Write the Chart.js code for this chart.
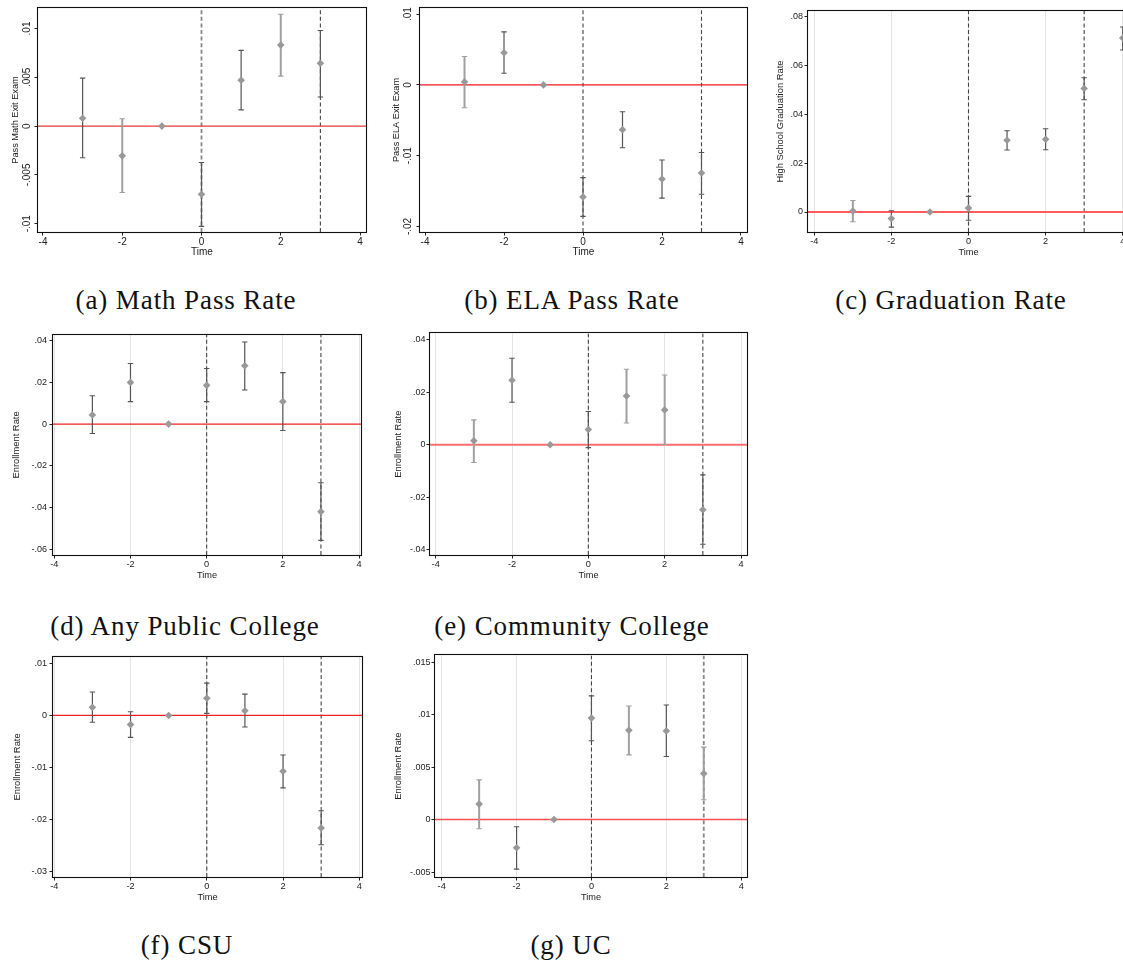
<!DOCTYPE html>
<html><head><meta charset="utf-8">
<script src="https://cdn.jsdelivr.net/npm/chart.js@4.4.0/dist/chart.umd.min.js"></script>
<style>
html,body{margin:0;padding:0;background:#fff;}
body{width:1123px;height:965px;overflow:hidden;position:relative;}
.box{position:absolute;}
.cap{position:absolute;font-family:'Liberation Serif',serif;font-size:27px;color:#111;white-space:nowrap;transform:translate(-50%,-50%);letter-spacing:0.9px;}
</style></head>
<body>
<script>
// ---------- DATA ----------
const periods = [-3, -2, -1, 0, 1, 2, 3];
const periodsGrad = [-3, -2, -1, 0, 1, 2, 3, 4];
const xTicks = [-4, -2, 0, 2, 4];

// (a) Math pass rate
const mathEst = [0.0008, -0.00305, 0, -0.00698, 0.00471, 0.0083, 0.00644];
const mathLo  = [-0.00325, -0.00681, null, -0.01027, 0.00166, 0.00512, 0.00298];
const mathHi  = [0.00492, 0.00075, null, -0.00373, 0.00776, 0.01146, 0.0098];
const yTicksMath = [-0.01, -0.005, 0, 0.005, 0.01];

// (b) ELA pass rate
const elaEst = [0.00042, 0.00454, 0, -0.01582, -0.00632, -0.01329, -0.01245];
const elaLo  = [-0.00323, 0.00164, null, -0.01858, -0.00889, -0.016, -0.01544];
const elaHi  = [0.0040, 0.00749, null, -0.0131, -0.00379, -0.01062, -0.00955];
const yTicksEla = [-0.02, -0.01, 0, 0.01];

// (c) Graduation rate
const gradEst = [0.0004, -0.0027, 0, 0.0016, 0.0294, 0.0298, 0.0506, 0.0713];
const gradLo  = [-0.004, -0.0062, null, -0.0034, 0.0254, 0.0255, 0.046, 0.0664];
const gradHi  = [0.0047, 0.0005, null, 0.0064, 0.0333, 0.0341, 0.055, 0.0758];
const yTicksGrad = [0, 0.02, 0.04, 0.06, 0.08];

// (d) Any public college
const anyEst = [0.0044, 0.020, 0, 0.0186, 0.028, 0.0108, -0.042];
const anyLo  = [-0.0045, 0.0108, null, 0.0108, 0.0164, -0.0031, -0.0558];
const anyHi  = [0.0136, 0.0291, null, 0.0267, 0.0394, 0.0247, -0.0281];
const yTicksAny = [-0.06, -0.04, -0.02, 0, 0.02, 0.04];

// (e) Community college
const ccEst = [0.0015, 0.0246, 0, 0.0058, 0.0186, 0.0133, -0.0248];
const ccLo  = [-0.0068, 0.0162, null, -0.0011, 0.0083, 0.0001, -0.038];
const ccHi  = [0.0095, 0.033, null, 0.0127, 0.0288, 0.0266, -0.0115];
const yTicksCC = [-0.04, -0.02, 0, 0.02, 0.04];

// (f) CSU
const csuEst = [0.00156, -0.00175, 0, 0.0033, 0.0009, -0.0107, -0.0216];
const csuLo  = [-0.0013, -0.0042, null, 0.0004, -0.0022, -0.0139, -0.0248];
const csuHi  = [0.0045, 0.0007, null, 0.0062, 0.0041, -0.0076, -0.0183];
const yTicksCSU = [-0.03, -0.02, -0.01, 0, 0.01];

// (g) UC
const ucEst = [0.00147, -0.00269, 0, 0.00966, 0.0085, 0.00844, 0.00438];
const ucLo  = [-0.00088, -0.00472, null, 0.0075, 0.00616, 0.006, 0.00188];
const ucHi  = [0.00378, -0.00069, null, 0.01178, 0.01081, 0.01091, 0.0069];
const yTicksUC = [-0.005, 0, 0.005, 0.01, 0.015];

const eventLines = [0, 3];

// ---------- LAYOUT / STYLE ----------
const XH = 28;
const DARK = '#555555', LIGHT = '#a0a0a0';
const panels = [
  {x: periods, est: mathEst, lo: mathLo, hi: mathHi, yTicks: yTicksMath, yTitle: 'Pass Math Exit Exam',
   frame: [38, 7, 366, 232], xr: [-4.126, 4.151], yr: [-0.01085, 0.0121], titleX: 15.7, rotY: true, rotOff: 11,
   grid: false, tf: 10, ttf: 9.2, xf: 10, yPad: 2, zc: '#e33b36', zw: 1.3,
   sh: ['d','l','d','d','d','l','d'], vs: ['l','d']},
  {x: periods, est: elaEst, lo: elaLo, hi: elaHi, yTicks: yTicksEla, yTitle: 'Pass ELA Exit Exam',
   frame: [420, 7, 747, 232], xr: [-4.127, 4.152], yr: [-0.02078, 0.01086], titleX: 396.7, rotY: true, rotOff: 11.7,
   grid: false, tf: 10, ttf: 9.2, xf: 10, yPad: 2, zc: '#f01818', zw: 1.3,
   sh: ['l','d','d','d','d','d','d'], vs: ['d','d']},
  {x: periodsGrad, est: gradEst, lo: gradLo, hi: gradHi, yTicks: yTicksGrad, yTitle: 'High School Graduation Rate',
   frame: [808, 7, 1129, 232], xr: [-4.163, 4.163], yr: [-0.00819, 0.0824], titleX: 780, rotY: false,
   grid: true, tf: 9, ttf: 9.4, xf: 9.2, yPad: 1.5, zc: '#ff5c5c', zw: 1.8,
   sh: ['l','d','d','d','d','d','d','d'], vs: ['d','d']},
  {x: periods, est: anyEst, lo: anyLo, hi: anyHi, yTicks: yTicksAny, yTitle: 'Enrollment Rate',
   frame: [53, 330, 361, 555], xr: [-4.034, 4.052], yr: [-0.0628, 0.0428], titleX: 16.7, rotY: false,
   grid: true, tf: 9, ttf: 9.4, xf: 9.2, yPad: 2.5, zc: '#ee2222', zw: 1.3,
   sh: ['d','d','d','d','d','d','d'], vs: ['d','d']},
  {x: periods, est: ccEst, lo: ccLo, hi: ccHi, yTicks: yTicksCC, yTitle: 'Enrollment Rate',
   frame: [430, 330, 747, 555], xr: [-4.149, 4.157], yr: [-0.0421, 0.0425], titleX: 398, rotY: false,
   grid: true, tf: 9, ttf: 9.4, xf: 9.2, yPad: 1, zc: '#ff6f6f', zw: 2,
   sh: ['l','d','d','d','l','l','d'], vs: ['d','d']},
  {x: periods, est: csuEst, lo: csuLo, hi: csuHi, yTicks: yTicksCSU, yTitle: 'Enrollment Rate',
   frame: [53, 652, 362, 877], xr: [-4.034, 4.071], yr: [-0.031, 0.01124], titleX: 17, rotY: false,
   grid: true, tf: 9, ttf: 9.4, xf: 9.2, yPad: 2.5, zc: '#ee2222', zw: 1.3,
   sh: ['d','d','d','d','d','d','d'], vs: ['d','d']},
  {x: periods, est: ucEst, lo: ucLo, hi: ucHi, yTicks: yTicksUC, yTitle: 'Enrollment Rate',
   frame: [435, 652, 747, 877], xr: [-4.179, 4.155], yr: [-0.00547, 0.01563], titleX: 398, rotY: false,
   grid: true, tf: 9, ttf: 9.4, xf: 9.2, yPad: 1, zc: '#ff5050', zw: 1.5,
   sh: ['l','d','d','d','l','d','l'], vs: ['d','l']}
];
const captions = [
  ['(a) Math Pass Rate', 186, 300], ['(b) ELA Pass Rate', 572, 300], ['(c) Graduation Rate', 951, 300],
  ['(d) Any Public College', 185, 626], ['(e) Community College', 572, 626],
  ['(f) CSU', 187, 945], ['(g) UC', 571, 945]
];

function fmt(v) {
  if (Math.abs(v) < 1e-12) return '0';
  return (v < 0 ? '-' : '') + String(+Math.abs(v).toFixed(4)).replace(/^0\./, '.');
}

const FONT = "'Liberation Sans', Arial, sans-serif";

const panelPlugin = {
  id: 'panelPlugin',
  beforeDatasetDraw(chart, args) {
    if (args.index !== 0) return;
    const p = panels[+chart.canvas.dataset.idx];
    const xs = chart.scales.x, ys = chart.scales.y, ctx = chart.ctx;
    ctx.save();
    p.x.forEach((xv, i) => {
      if (p.lo[i] === null || p.hi[i] === null) return;
      const px = xs.getPixelForValue(xv);
      const pl = ys.getPixelForValue(p.lo[i]);
      const ph = ys.getPixelForValue(p.hi[i]);
      const light = p.sh[i] === 'l';
      ctx.strokeStyle = light ? LIGHT : DARK;
      ctx.lineWidth = light ? 2 : 1.2;
      ctx.beginPath();
      ctx.moveTo(px, pl); ctx.lineTo(px, ph);
      ctx.stroke();
      ctx.lineWidth = 1.1;
      ctx.beginPath();
      ctx.moveTo(px - 2.7, pl); ctx.lineTo(px + 2.7, pl);
      ctx.moveTo(px - 2.7, ph); ctx.lineTo(px + 2.7, ph);
      ctx.stroke();
    });
    ctx.restore();
  },
  afterDraw(chart) {
    const p = panels[+chart.canvas.dataset.idx];
    const a = chart.chartArea, ctx = chart.ctx;
    ctx.save();
    ctx.strokeStyle = '#111';
    ctx.lineWidth = 1.1;
    ctx.strokeRect(Math.round(a.left) - 0.5, Math.round(a.top) - 0.5, Math.round(a.right - a.left) + 1, Math.round(a.bottom - a.top) + 1);
    if (p.rotY) {
      const ys = chart.scales.y;
      ctx.fillStyle = '#222';
      ctx.font = p.tf + 'px ' + FONT;
      ctx.textAlign = 'center';
      ctx.textBaseline = 'middle';
      p.yTicks.forEach(v => {
        const py = ys.getPixelForValue(v);
        ctx.save();
        ctx.translate(a.left - p.rotOff, py);
        ctx.rotate(-Math.PI / 2);
        ctx.fillText(fmt(v), 0, 0);
        ctx.restore();
      });
    }
    ctx.restore();
  }
};

panels.forEach((p, idx) => {
  const [fl, ft, fr, fb] = p.frame;
  const cl = Math.round(p.titleX - 12);
  const YW = fl - cl;
  const W = YW + (fr - fl) + 8;
  const H = 3 + (fb - ft) + XH;
  const box = document.createElement('div');
  box.className = 'box';
  box.style.left = cl + 'px';
  box.style.top = (ft - 3) + 'px';
  box.style.width = W + 'px';
  box.style.height = H + 'px';
  const cv = document.createElement('canvas');
  cv.width = W; cv.height = H;
  cv.style.width = W + 'px'; cv.style.height = H + 'px';
  cv.dataset.idx = idx;
  box.appendChild(cv);
  document.body.appendChild(box);

  const lhT = p.ttf * 1.2;
  const lhX = p.xf * 1.2;
  const datasets = [
    {data: p.x.map((xv, i) => ({x: xv, y: p.est[i]})), pointStyle: 'rectRot', pointRadius: 3.8,
     backgroundColor: '#999999', borderColor: '#999999', borderWidth: 0, showLine: false},
    {data: [{x: p.xr[0], y: 0}, {x: p.xr[1], y: 0}], showLine: true, borderColor: p.zc, borderWidth: p.zw, pointRadius: 0}
  ];
  eventLines.forEach((v, k) => {
    const light = p.vs[k] === 'l';
    datasets.push({data: [{x: v, y: p.yr[0]}, {x: v, y: p.yr[1]}], showLine: true,
      borderColor: light ? '#888' : '#444', borderWidth: light ? 1.8 : 1.1, borderDash: [4, 2.6], pointRadius: 0});
  });

  new Chart(cv, {
    type: 'scatter',
    data: {datasets},
    plugins: [panelPlugin],
    options: {
      responsive: false, animation: false, devicePixelRatio: 1,
      layout: {padding: {left: 0, top: 3, right: 8, bottom: 0}},
      plugins: {legend: {display: false}, tooltip: {enabled: false}},
      elements: {line: {tension: 0}},
      scales: {
        x: {
          type: 'linear', min: p.xr[0], max: p.xr[1],
          afterBuildTicks: s => { s.ticks = xTicks.map(v => ({value: v})); },
          afterFit: s => { s.height = XH; },
          ticks: {font: {family: FONT, size: p.xf}, color: '#222', padding: 0.5, maxRotation: 0, minRotation: 0, autoSkip: false,
                  callback: v => String(v)},
          grid: {drawOnChartArea: p.grid, color: '#e4e4e4', lineWidth: 1, tickLength: 3.5, tickColor: '#222', tickWidth: 1},
          border: {display: false},
          title: {display: true, text: 'Time', font: {family: FONT, size: p.xf}, color: '#222',
                  padding: {top: 0, bottom: XH - 20.5 - lhX / 2}}
        },
        y: {
          type: 'linear', min: p.yr[0], max: p.yr[1],
          afterBuildTicks: s => { s.ticks = p.yTicks.map(v => ({value: v})); },
          afterFit: s => { s.width = YW; },
          ticks: {display: !p.rotY, font: {family: FONT, size: p.tf}, color: '#222', padding: p.yPad, callback: v => fmt(v)},
          grid: {drawOnChartArea: false, tickLength: 3.5, tickColor: '#222', tickWidth: 1},
          border: {display: false},
          title: {display: true, text: p.yTitle, font: {family: FONT, size: p.ttf}, color: '#222',
                  padding: {top: (p.titleX - cl) - lhT / 2, bottom: 0}}
        }
      }
    }
  });
});

captions.forEach(([t, x, y]) => {
  const d = document.createElement('div');
  d.className = 'cap';
  d.textContent = t;
  d.style.left = x + 'px';
  d.style.top = y + 'px';
  document.body.appendChild(d);
});
</script>
</body></html>
